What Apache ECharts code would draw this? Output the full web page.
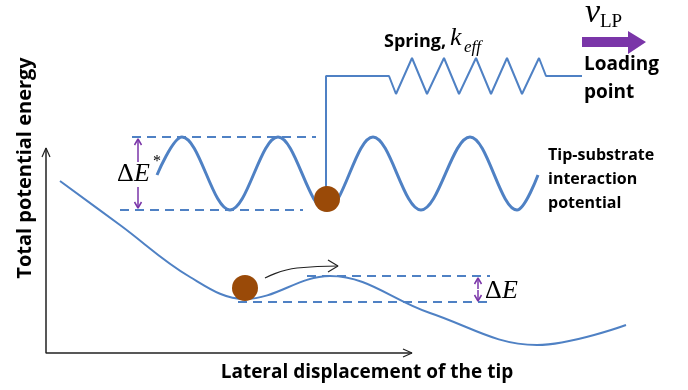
<!DOCTYPE html>
<html>
<head>
<meta charset="utf-8">
<script src="https://cdn.jsdelivr.net/npm/echarts@6/dist/echarts.min.js"></script>
<style>
html,body{margin:0;padding:0;background:#fff}
#chart{width:688px;height:390px}
</style>
</head>
<body>
<div id="chart"></div>
<script>
// everything is in picture units: x to the right, y downwards
var axisLine = [[46,148],[46,353],[412,353]]
var axisHeadY = [[42,157],[46,148],[50,157]]
var axisHeadX = [[403,349],[412,353],[403,357]]

// tip-substrate potential: ends, peaks and troughs
var wave = [[157,175],[182,137],[230,210],[278,137],[326,210],[373,137],[421,210],[470,137],
    [517,210],[538,175]]
var waveTop = [[132,137],[316,137]]
var waveBottom = [[120,210],[303,210]]

// total potential energy
var total = [[60,181],[120,225],[190,277],[245,299],[330,276],[430,313],[537,345],[626,325]]
var totalTop = [[307,276],[490,276]]
var totalBottom = [[238,302],[487,302]]

// spring from the tip to the loading point
var spring = [[326,200],[326,76],[389,76],[396,94],[412,58],[427,94],[444,58],[459,94],[476,58],
    [491,94],[507,58],[522,94],[539,58],[546,76],[582,76]]

var balls = [[327,199],[245,288]]

// arrows
var dEstarUp = [[138,162],[138,139]]
var dEstarDown = [[138,187],[138,208]]
var dEUp = [[478,289],[478,278]]
var dEDown = [[478,290],[478,301]]
var hop = [[265,278],[297,268],[338,266]]
var hopHead = [[328,260],[338,266],[328,272]]
var pushArrow = [[582,37],[628,37],[628,31],[646,42],[628,54],[628,47],[582,47]]

var blue = '#4f81c4'
var purple = '#7a35a8'

function poly(data, color, width, opts) {
    var s = {type:'line', data:data, symbol:'none', silent:true, animation:false,
        lineStyle:{color:color, width:width}}
    for (var k in (opts || {})) s[k] = opts[k]
    return s
}
function dashed(data) {
    return poly(data, blue, 2, {lineStyle:{color:blue, width:2, type:[9,6]}})
}
function head(up, x, y) {
    var d = up ? -1 : 1
    return poly([[x-3.5,y-d*6],[x,y],[x+3.5,y-d*6]], purple, 1.5)
}

var chart = echarts.init(document.getElementById('chart'))
var sans = '"Open Sans", "Noto Sans", sans-serif'
var serif = '"Liberation Serif", "DejaVu Serif", serif'

chart.setOption({
    animation:false,
    grid:{left:0, right:0, top:0, bottom:0},
    xAxis:{type:'value', min:0, max:688, show:false},
    yAxis:{type:'value', min:0, max:390, inverse:true, show:false},
    series:[
        poly(axisLine, '#222', 1.5),
        poly(axisHeadY, '#222', 1.2),
        poly(axisHeadX, '#222', 1.2),
        dashed(waveTop), dashed(waveBottom), dashed(totalTop), dashed(totalBottom),
        poly(wave, blue, 3, {smooth:0.36}),
        poly(total, blue, 2, {smooth:0.38}),
        poly(spring, blue, 2),
        poly(dEstarUp, purple, 1.5), poly(dEstarDown, purple, 1.5),
        head(true, 138, 139), head(false, 138, 208),
        poly(dEUp, purple, 1.5), poly(dEDown, purple, 1.5),
        head(true, 478, 278), head(false, 478, 301),
        poly(hop, '#222', 1.2, {smooth:0.5}),
        poly(hopHead, '#222', 1.2),
        {type:'custom', silent:true, animation:false, data:[0],
            renderItem:function(params, api){
                return {type:'polygon', shape:{points:pushArrow.map(function(p){return api.coord(p)})},
                    style:{fill:purple}}
            }},
        {type:'scatter', data:balls, symbolSize:26, silent:true, z:5,
            itemStyle:{color:'#9a4a08', opacity:1}}
    ],
    graphic:[
        {type:'text', x:25, y:168, rotation:Math.PI/2, style:{text:'Total potential energy',
            font:'bold 20px ' + sans, fill:'#000', align:'center', verticalAlign:'middle'}},
        {type:'text', x:367, y:373, style:{text:'Lateral displacement of the tip',
            font:'bold 19px ' + sans, fill:'#000', align:'center', verticalAlign:'middle'}},
        {type:'text', x:384, y:42, style:{text:'Spring,', font:'bold 18px ' + sans,
            fill:'#000', verticalAlign:'middle'}},
        {type:'text', x:450, y:38, style:{text:'k', font:'italic 26px ' + serif,
            fill:'#000', verticalAlign:'middle'}},
        {type:'text', x:464, y:48, style:{text:'eff', font:'italic 17px ' + serif,
            fill:'#000', verticalAlign:'middle'}},
        {type:'text', x:585, y:13, style:{text:'v', font:'italic 34px ' + serif,
            fill:'#000', verticalAlign:'middle'}},
        {type:'text', x:600, y:22, style:{text:'LP', font:'19px ' + serif,
            fill:'#000', verticalAlign:'middle'}},
        {type:'text', x:584, y:65, style:{text:'Loading', font:'bold 19px ' + sans,
            fill:'#000', verticalAlign:'middle'}},
        {type:'text', x:584, y:93, style:{text:'point', font:'bold 19px ' + sans,
            fill:'#000', verticalAlign:'middle'}},
        {type:'text', x:548, y:155, style:{text:'Tip-substrate', font:'bold 16px ' + sans,
            fill:'#000', verticalAlign:'middle'}},
        {type:'text', x:548, y:179, style:{text:'interaction', font:'bold 16px ' + sans,
            fill:'#000', verticalAlign:'middle'}},
        {type:'text', x:548, y:203, style:{text:'potential', font:'bold 16px ' + sans,
            fill:'#000', verticalAlign:'middle'}},
        {type:'text', x:117, y:174, style:{text:'\u0394', font:'26px ' + serif,
            fill:'#000', verticalAlign:'middle'}},
        {type:'text', x:134, y:174, style:{text:'E', font:'italic 26px ' + serif,
            fill:'#000', verticalAlign:'middle'}},
        {type:'text', x:153, y:162, style:{text:'*', font:'16px ' + serif,
            fill:'#000', verticalAlign:'middle'}},
        {type:'text', x:485, y:291, style:{text:'\u0394', font:'26px ' + serif,
            fill:'#000', verticalAlign:'middle'}},
        {type:'text', x:502, y:291, style:{text:'E', font:'italic 26px ' + serif,
            fill:'#000', verticalAlign:'middle'}}
    ]
})
</script>
</body>
</html>
